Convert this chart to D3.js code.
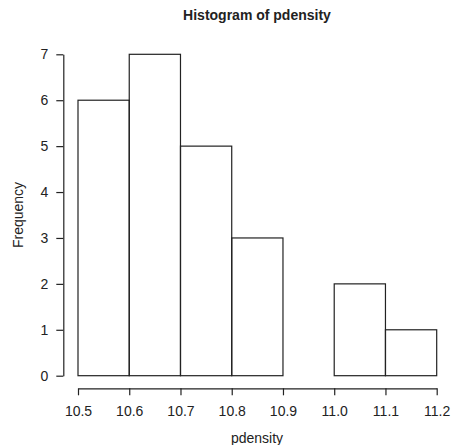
<!DOCTYPE html>
<html>
<head>
<meta charset="utf-8">
<script src="https://cdn.jsdelivr.net/npm/d3@7"></script>
<style>
  body { margin: 0; background: #fff; }
  svg text { font-family: "Liberation Sans", Arial, Helvetica, sans-serif; fill: #222; }
</style>
</head>
<body>
<svg id="chart" width="454" height="445"></svg>
<script>
// histogram data
var breaks = [10.5, 10.6, 10.7, 10.8, 10.9, 11.0, 11.1, 11.2];
var counts = [6, 7, 5, 3, 0, 2, 1];
var xTicks = [10.5, 10.6, 10.7, 10.8, 10.9, 11.0, 11.1, 11.2];
var yTicks = [0, 1, 2, 3, 4, 5, 6, 7];

var svg = d3.select('#chart');
var x = d3.scaleLinear().domain([10.5, 11.2]).range([78, 436.7]);
var y = d3.scaleLinear().domain([0, 7]).range([375.7, 54.3]);

var bins = counts.map(function(c, i){
  return {x0: breaks[i], x1: breaks[i + 1], n: c};
});

// bars
svg.append('g').selectAll('rect')
  .data(bins)
  .enter().append('rect')
  .attr('x', function(d){ return x(d.x0); })
  .attr('y', function(d){ return y(d.n); })
  .attr('width', function(d){ return x(d.x1) - x(d.x0); })
  .attr('height', function(d){ return y(0) - y(d.n); })
  .attr('fill', 'none')
  .attr('stroke', '#222')
  .attr('stroke-width', 1.2);

// x axis
var xAxis = d3.axisBottom(x)
  .tickValues(xTicks)
  .tickFormat(d3.format('.1f'))
  .tickSize(7)
  .tickSizeOuter(0)
  .tickPadding(11);
var gx = svg.append('g')
  .attr('transform', 'translate(0,388.3)')
  .call(xAxis);

// y axis
var yAxis = d3.axisLeft(y)
  .tickValues(yTicks)
  .tickFormat(d3.format('d'))
  .tickSize(7)
  .tickSizeOuter(0)
  .tickPadding(8);
var gy = svg.append('g')
  .attr('transform', 'translate(63.3,0)')
  .call(yAxis);

[gx, gy].forEach(function(g){
  g.attr('font-size', null).attr('font-family', null);
  g.selectAll('path.domain').attr('stroke', '#222').attr('stroke-width', 1.2);
  g.selectAll('.tick line').attr('stroke', '#222').attr('stroke-width', 1.2);
  g.selectAll('.tick text')
    .style('font-size', '14px')
    .attr('fill', '#222');
});

// title and labels
svg.append('text')
  .attr('x', 257)
  .attr('y', 20)
  .attr('text-anchor', 'middle')
  .style('font-size', '14px')
  .attr('font-weight', 'bold')
  .text('Histogram of pdensity');

svg.append('text')
  .attr('x', 257)
  .attr('y', 443)
  .attr('text-anchor', 'middle')
  .style('font-size', '14px')
  .text('pdensity');

svg.append('text')
  .attr('transform', 'translate(23,' + y(3.5) + ') rotate(-90)')
  .attr('text-anchor', 'middle')
  .style('font-size', '14px')
  .text('Frequency');
</script>
</body>
</html>
